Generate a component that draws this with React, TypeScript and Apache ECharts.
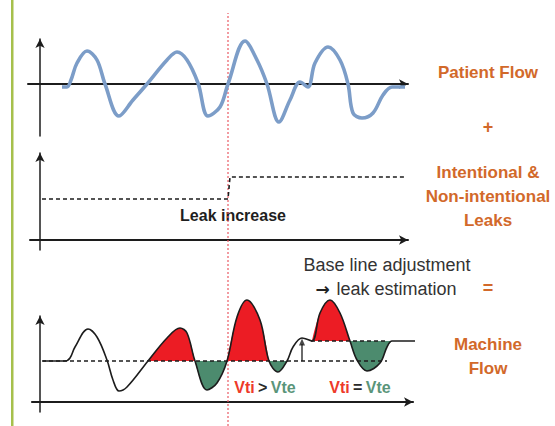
import React, { useEffect, useRef } from "react";
import * as echarts from "echarts";

// ---- Data (time units, flow units) ----
const patientFlow: [number, number][] = [
  [22, -3], [27, -3], [31, 4], [37, 21], [47, 33], [57, 24], [65, 0], [79, -32],
  [93, -16], [107, 0], [127, 24], [137, 32], [147, 24], [158, 1], [168, -32],
  [180, -23], [188, 0], [205, 43], [217, 24], [227, 0], [239, -38], [250, -16],
  [260, 2], [268, -3], [275, 21], [288, 37], [300, 24], [308, 0], [313, -29],
  [322, -34], [333, -29], [343, -11], [352, -3], [365, -3],
];

const leakLevel: [number, number][] = [[2, 41], [188, 41], [190, 63], [365, 63]];

const machineFlow: [number, number][] = [
  [3, 41], [25, 41], [30, 44], [35, 55], [48, 73], [57, 65], [67, 42], [73, 22],
  [79, 11], [87, 15], [108, 41], [127, 64], [140, 74], [147, 69], [155, 41],
  [167, 12], [177, 19], [187, 41], [197, 85], [207, 102], [220, 82], [229, 41],
  [238, 30], [247, 41], [253, 55], [262, 64], [272, 61], [280, 89], [290, 102],
  [300, 89], [310, 61], [317, 42], [327, 31], [340, 39], [347, 55], [352, 61],
  [375, 61],
];

const baseLine: [number, number][] = [[2, 41], [347, 41]];
const adjustedBaseLine: [number, number][] = [[271, 61], [347, 61]];
const adjustArrow: [number, number][] = [[262, 41], [262, 58]];
const leakEventT = 188;

// fill segments: [startIndex, endIndex, baseline, kind]
const fillSegments: [number, number, number, "in" | "ex"][] = [
  [10, 14, 41, "in"], [14, 17, 41, "ex"], [17, 21, 41, "in"],
  [21, 23, 41, "ex"], [26, 30, 61, "in"], [30, 35, 61, "ex"],
];

const RED = "#ec1c24";
const GREEN = "#4c8b6e";
const ORANGE = "#d2692a";
const FONT = "'Liberation Sans', Arial, sans-serif";

const App = () => {
  const ref = useRef<HTMLDivElement>(null);
  useEffect(() => {
    const chart = echarts.init(ref.current!, null, { renderer: "svg" });
    const axisLine = (w: number) => ({
      show: true,
      onZero: true,
      symbol: ["none", "arrow"],
      symbolSize: [7, 9],
      lineStyle: { color: "#1c1c1c", width: w },
    });
    const ax = (gridIndex: number, min: number, max: number, w: number, show = true) => ({
      type: "value",
      gridIndex,
      min,
      max,
      show,
      axisLine: axisLine(w),
      axisTick: { show: false },
      axisLabel: { show: false },
      splitLine: { show: false },
    });
    const line = (xi: number, data: any, color: string, width: number, type: any = "solid", smooth: any = false, z = 3) => ({
      type: "line",
      xAxisIndex: xi,
      yAxisIndex: xi,
      data,
      smooth,
      clip: false,
      symbol: "none",
      silent: true,
      z,
      lineStyle: { color, width, type },
    });

    const fills = fillSegments.map(([a, b, base, kind]) => ({
      type: "line",
      xAxisIndex: 2,
      yAxisIndex: 2,
      data: machineFlow.slice(a, b + 1),
      smooth: 0.35,
      clip: false,
      symbol: "none",
      silent: true,
      z: 1,
      lineStyle: { width: 0 },
      areaStyle: { color: kind === "in" ? RED : GREEN, opacity: 1, origin: base },
    }));

    const text = (t: string, x: number, y: number, size: number, color: string, weight: any = "bold") => ({
      type: "text",
      x,
      y,
      silent: true,
      style: {
        text: t,
        fill: color,
        font: `${weight} ${size}px ${FONT}`,
        textAlign: "center",
        textVerticalAlign: "middle",
      },
    });
    const richText = (op: string, x: number, y: number) => ({
      type: "text",
      x,
      y,
      silent: true,
      style: {
        text: `{r|Vti} {k|${op}} {g|Vte}`,
        textAlign: "center",
        textVerticalAlign: "middle",
        rich: {
          r: { fill: "#ee3a2a", fontSize: 16, fontWeight: "bold", fontFamily: FONT },
          k: { fill: "#2a2a2a", fontSize: 16, fontWeight: "bold", fontFamily: FONT },
          g: { fill: "#5a957a", fontSize: 16, fontWeight: "bold", fontFamily: FONT },
        },
      },
    });

    chart.setOption({
      animation: false,
      backgroundColor: "#ffffff",
      textStyle: { fontFamily: FONT },
      grid: [
        { left: 28, right: 147, top: 39, bottom: 426 - 136 },
        { left: 30, right: 147, top: 153, bottom: 426 - 250 },
        { left: 32, right: 142, top: 316, bottom: 426 - 412 },
        { left: 28, right: 147, top: 13, bottom: 0 },
      ],
      xAxis: [
        ax(0, -12, 368, 2),
        ax(1, -10, 368, 2),
        ax(2, -8, 373, 2.2),
        ax(3, -12, 368, 1, false),
      ],
      yAxis: [
        ax(0, -52, 45, 1.5),
        ax(1, -10, 87, 1.5),
        ax(2, -10, 86, 1.5),
        ax(3, 0, 1, 1, false),
      ],
      series: [
        line(3, [[leakEventT, 0], [leakEventT, 1]], "#ea5a64", 1.2, [2, 2], false, 0),
        line(0, patientFlow, "#7c9dc8", 3.6, "solid", 0.35, 3),
        line(1, leakLevel, "#1c1c1c", 1.6, [4, 3], false, 3),
        ...fills,
        line(2, baseLine, "#1c1c1c", 1.6, [4, 3], false, 2),
        line(2, adjustedBaseLine, "#1c1c1c", 1.6, [4, 3], false, 2),
        line(2, adjustArrow, "#1c1c1c", 1.3, "solid", false, 4),
        {
          type: "scatter",
          xAxisIndex: 2,
          yAxisIndex: 2,
          data: [adjustArrow[1]],
          symbol: "triangle",
          symbolSize: [6, 7],
          symbolOffset: [0, -2],
          itemStyle: { color: "#1c1c1c" },
          silent: true,
          z: 4,
        },
        line(2, machineFlow, "#1c1c1c", 1.6, "solid", 0.35, 5),
      ],
      graphic: [
        { type: "rect", shape: { x: 11, y: 0, width: 2.5, height: 426 }, style: { fill: "#a6c04c" }, silent: true },
        text("Leak increase", 233, 215, 16, "#1e1e1e"),
        text("Base line adjustment", 387, 265, 18, "#333333", "normal"),
        {
          type: "text",
          x: 386,
          y: 289,
          silent: true,
          style: {
            text: "{a|\u2192}  {b|leak estimation}",
            textAlign: "center",
            textVerticalAlign: "middle",
            rich: {
              a: { fill: "#222222", fontSize: 17, fontWeight: "bold", fontFamily: "'DejaVu Sans', sans-serif" },
              b: { fill: "#333333", fontSize: 18, fontFamily: FONT },
            },
          },
        },
        text("=", 488, 288, 18, ORANGE),
        text("Patient Flow", 488, 72, 17, ORANGE),
        text("+", 488, 127, 18, ORANGE),
        text("Intentional &", 488, 172, 17, ORANGE),
        text("Non-intentional", 488, 196, 17, ORANGE),
        text("Leaks", 488, 220, 17, ORANGE),
        text("Machine", 488, 344, 17, ORANGE),
        text("Flow", 488, 368, 17, ORANGE),
        richText(">", 265, 387),
        richText("=", 360, 387),
      ],
    });
    return () => chart.dispose();
  }, []);
  return (
    <div
      ref={ref}
      style={{ position: "fixed", left: 0, top: 0, width: 555, height: 426, background: "#fff" }}
    />
  );
};

export default App;
